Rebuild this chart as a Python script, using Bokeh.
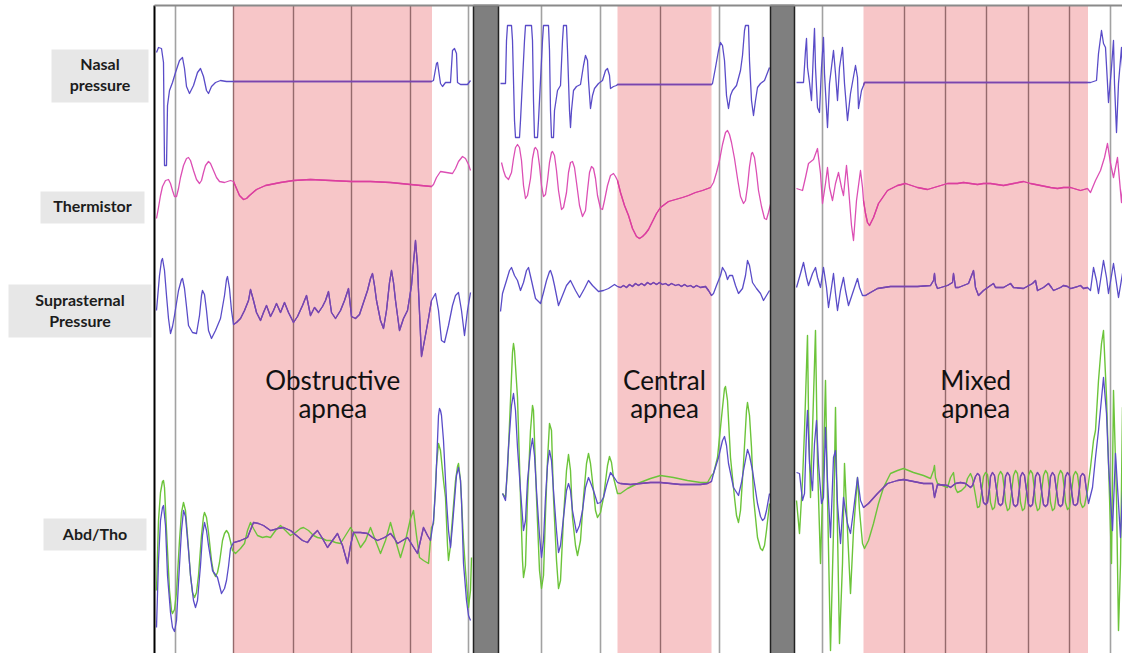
from bokeh.plotting import figure
from bokeh.models import Range1d
from bokeh.embed import file_html
from bokeh.resources import INLINE
from bokeh.core.properties import value

# ---------------- data (time t, signal level v) ----------------
channels = ["Nasal|pressure", "Thermistor", "Suprasternal|Pressure", "Abd/Tho"]
channel_label_y = [(63, 84), (205,), (299, 320), (533,)]

event_names = [("Obstructive", "apnea"), ("Central", "apnea"), ("Mixed", "apnea")]
event_start = [233, 617, 863]
event_end = [431.5, 711, 1087.5]

epoch_marks_plain = [175, 468, 541, 600, 719, 822, 1110]
epoch_marks_event = [233, 293, 351, 410, 660, 904, 945, 986, 1028, 1069]

# Panel 1 (obstructive)
nasal_1 = [(156,52),(158,47),(161,48),(163,62),(164,165),(166,165),(167,105),(169,90),(172,82),(175,72),(179,60),(182,57),(184,68),(186,86),(189,93),(193,85),(197,72),(200,68),(203,76),(206,90),(208,93),(211,86),(215,82),(220,80),(226,81),(233,81),(431,81),(433,80),(436,63),(437,62),(440,83),(442,86),(445,82),(450,82),(452,50),(454,48),(456,53),(457,82),(460,84),(467,84),(470,80)]
therm_1 = [(156,218),(158,207),(160,195),(162,186),(165,180),(168,179),(170,183),(172,190),(174,196),(176,196),(178,188),(180,177),(183,165),(186,158),(188,157),(190,160),(193,170),(196,179),(199,183),(201,180),(203,172),(205,165),(208,161),(210,163),(213,170),(216,177),(219,181),(224,182),(230,180),(233,181),(236,188),(239,195),(243,199),(246,198),(249,195),(256,189),(265,185),(280,182),(293,180),(310,179),(330,180),(351,181),(370,181),(390,182),(410,184),(431,186),(433,184),(436,177),(440,171),(446,172),(452,173),(455,168),(458,161),(462,156),(465,158),(468,164),(470,170)]
supra_1 = [(156,310),(159,275),(161,260),(162,258),(164,270),(166,295),(168,318),(170,333),(172,326),(174,315),(178,290),(181,279),(182,278),(184,288),(186,306),(188,325),(192,332),(196,333),(199,315),(201,295),(202,290),(204,294),(206,310),(208,330),(211,338),(215,330),(220,318),(224,295),(226,279),(227,276),(229,288),(231,310),(233,324),(236,322),(240,318),(244,310),(248,300),(250,289),(253,300),(256,312),(260,320),(263,312),(266,305),(270,316),(273,310),(276,303),(280,312),(284,302),(288,312),(293,322),(297,316),(302,305),(306,295),(310,315),(314,307),(318,312),(322,306),(325,300),(328,291),(331,312),(335,318),(340,310),(344,300),(348,288),(351,316),(355,318),(359,314),(363,302),(367,290),(370,278),(372,273),(374,285),(376,300),(380,320),(383,328),(386,310),(389,282),(391,270),(393,282),(395,300),(399,330),(403,318),(407,310),(411,285),(413,262),(415,240),(417,265),(418,290),(421,356),(424,340),(428,318),(431,300),(435,293),(438,310),(441,340),(444,342),(448,325),(452,305),(455,295),(458,292),(461,310),(464,335),(467,310),(470,292)]
abd_1 = [(156,590),(158,520),(160,492),(162,481),(163,480),(164,487),(166,530),(169,590),(171,610),(172,613),(174,609),(176,592),(179,540),(181,512),(183,502),(185,510),(187,535),(190,575),(192,592),(194,597),(196,592),(198,575),(201,535),(203,516),(204,512),(206,517),(208,532),(211,560),(213,572),(215,576),(217,572),(219,562),(222,540),(224,533),(226,530),(228,533),(230,541),(232,550),(235,553),(240,548),(244,543),(247,530),(250,522),(253,528),(257,535),(262,537),(266,536),(270,537),(275,530),(280,525),(285,530),(290,535),(295,532),(300,528),(303,527),(308,530),(313,535),(317,537),(322,538),(326,540),(330,540),(335,542),(340,543),(345,535),(350,527),(355,535),(360,547),(365,540),(370,527),(375,540),(380,553),(385,540),(390,522),(395,540),(400,557),(405,540),(410,518),(413,510),(416,535),(419,557),(423,560),(428,563),(431,527),(433,523),(435,485),(436,465),(438,443),(440,450),(441,460),(443,480),(445,497),(447,545),(448,560),(450,545),(451,530),(455,480),(457,466),(458,463),(460,480),(461,500),(463,540),(465,570),(468,607),(470,590),(471,557)]
tho_1 = [(156,627),(158,560),(160,520),(162,507),(163,505),(165,525),(167,575),(170,612),(172,627),(174,631),(176,620),(178,582),(181,530),(183,510),(185,516),(188,550),(190,575),(193,600),(195,607),(197,600),(200,565),(202,535),(204,522),(206,530),(208,545),(212,570),(217,577),(221,593),(224,588),(226,580),(228,566),(230,548),(233,542),(240,540),(247,537),(253,522),(258,523),(263,525),(270,530),(277,528),(283,527),(290,530),(296,535),(302,540),(307,542),(312,535),(317,530),(322,538),(327,547),(332,540),(337,533),(342,545),(347,563),(350,545),(353,532),(360,532),(367,533),(372,537),(377,540),(384,537),(390,533),(394,538),(397,543),(402,540),(407,537),(412,545),(417,553),(420,540),(423,527),(427,535),(430,540),(433,520),(435,490),(437,440),(438,415),(439,408),(440,410),(441,415),(443,440),(446,500),(448,530),(450,547),(452,525),(454,500),(456,475),(458,467),(460,480),(461,500),(463,563),(466,600),(468,615),(470,620)]

# Panel 2 (central)
nasal_2 = [(500,83),(505,83),(506,40),(507,25),(511,25),(512,40),(514,120),(515,137),(519,137),(520,120),(524,40),(525,25),(531,25),(532,40),(533,100),(534,137),(537,137),(538,120),(542,40),(543,25),(548,25),(549,50),(550,110),(551,137),(553,137),(554,110),(557,90),(560,85),(562,40),(563,25),(566,25),(567,50),(569,110),(570,127),(571,110),(573,90),(576,86),(580,84),(583,65),(585,55),(587,60),(588,80),(590,108),(592,95),(594,88),(598,83),(602,80),(605,70),(607,68),(609,75),(610,88),(613,86),(616,85),(617,84),(711,84),(712,83),(715,67),(718,50),(720,42),(722,45),(724,60),(726,95),(728,108),(730,95),(732,90),(736,85),(740,70),(742,55),(744,30),(745,25),(748,25),(749,60),(751,100),(753,115),(755,100),(757,87),(760,83),(764,80),(769,67)]
therm_2 = [(501,162),(503,170),(505,176),(508,179),(511,172),(513,158),(515,147),(517,144),(519,147),(521,160),(523,185),(525,198),(527,195),(530,178),(532,158),(534,148),(535,147),(537,150),(539,165),(541,185),(543,196),(545,194),(547,180),(549,162),(551,152),(552,151),(554,155),(556,170),(558,190),(561,209),(563,207),(566,192),(568,172),(570,162),(572,161),(574,167),(576,182),(579,205),(582,216),(585,210),(587,190),(589,172),(591,166),(593,168),(595,178),(597,195),(600,208),(602,209),(604,200),(607,185),(610,175),(613,173),(615,176),(617,180),(620,192),(624,205),(628,215),(632,228),(636,236),(639,238),(642,236),(645,233),(648,229),(652,221),(656,213),(660,207),(664,204),(668,201),(675,199),(682,197),(688,195),(695,192),(702,190),(710,187),(713,182),(716,172),(719,160),(722,144),(725,132),(727,130),(729,134),(731,142),(734,158),(737,178),(740,196),(743,203),(745,200),(747,186),(749,166),(751,153),(752,152),(754,157),(756,172),(758,190),(761,206),(764,218),(766,219),(768,212),(771,200)]
supra_2 = [(500,311),(502,293),(506,280),(509,270),(511,267),(514,275),(517,280),(520,290),(523,282),(526,270),(528,267),(531,280),(535,298),(540,303),(543,292),(546,280),(549,271),(550,270),(552,276),(554,285),(558,305),(562,295),(566,285),(570,280),(575,290),(579,297),(584,288),(588,280),(592,285),(598,291),(603,290),(608,288),(614,284),(617,286),(620,287),(623,285),(626,287),(629,284),(632,286),(635,283),(638,285),(641,283),(644,285),(647,282),(650,284),(653,282),(656,284),(659,282),(662,284),(665,283),(668,285),(671,283),(675,285),(678,284),(681,286),(684,284),(687,286),(690,285),(693,287),(696,285),(700,287),(705,286),(708,290),(711,295),(713,293),(716,285),(720,275),(722,267),(725,272),(727,279),(729,275),(732,275),(735,285),(738,293),(742,288),(745,275),(747,260),(749,265),(752,282),(756,288),(760,293),(763,300),(766,295),(769,290)]
abd_2 = [(502,493),(505,497),(507,470),(508,447),(510,400),(512,352),(513,343),(514,350),(517,397),(520,497),(522,560),(523,577),(525,565),(527,497),(530,430),(532,405),(533,410),(536,497),(539,570),(541,588),(543,575),(545,513),(547,460),(549,423),(551,430),(553,497),(556,560),(558,588),(560,580),(563,517),(566,470),(568,454),(570,470),(572,517),(575,545),(577,555),(580,540),(583,497),(586,463),(588,453),(590,463),(593,490),(595,510),(597,517),(600,512),(603,497),(607,465),(609,456),(611,462),(613,477),(617,493),(620,493),(627,488),(637,483),(650,478),(660,475),(673,477),(687,480),(700,482),(707,482),(711,475),(713,473),(717,457),(721,417),(724,388),(725,386),(727,400),(730,457),(734,497),(736,515),(738,522),(740,510),(743,463),(746,410),(747,402),(749,415),(751,447),(753,497),(757,537),(760,548),(762,550),(764,545),(766,530),(769,503)]
tho_2 = [(502,493),(505,500),(508,447),(511,405),(513,393),(515,410),(517,447),(520,490),(523,530),(525,520),(527,480),(530,450),(532,438),(534,455),(536,490),(539,535),(541,557),(543,540),(545,497),(547,465),(549,450),(551,460),(553,490),(556,530),(558,552),(560,545),(563,517),(566,490),(568,483),(570,490),(572,510),(576,532),(579,525),(582,510),(585,487),(588,477),(590,482),(593,490),(597,503),(600,502),(603,497),(606,485),(610,472),(613,476),(617,482),(620,483),(630,484),(640,483),(650,482),(660,482),(670,483),(680,484),(690,484),(700,484),(707,483),(711,481),(713,473),(718,457),(722,440),(724,436),(726,445),(728,463),(733,487),(738,495),(741,482),(743,470),(747,449),(749,455),(752,470),(757,503),(760,516),(762,520),(764,518),(766,510),(769,493)]

# Panel 3 (mixed)
nasal_3 = [(796,82),(803,82),(805,50),(806,38),(807,67),(809,82),(811,100),(813,50),(814,28),(815,67),(817,107),(819,112),(821,67),(823,37),(824,73),(827,127),(829,83),(833,50),(835,73),(837,100),(839,67),(842,47),(844,83),(847,120),(850,93),(855,65),(857,77),(858,108),(861,90),(863,85),(864,82),(1087,82),(1090,82),(1096,80),(1098,53),(1101,30),(1103,43),(1105,47),(1107,83),(1108,102),(1111,67),(1113,40),(1114,83),(1116,132),(1118,83),(1121,47),(1123,83),(1127,102),(1129,67),(1131,37),(1133,83),(1135,107),(1138,82)]
therm_3 = [(796,188),(802,190),(805,177),(808,163),(813,159),(817,148),(820,173),(822,203),(825,183),(827,167),(829,187),(832,200),(835,183),(838,172),(841,187),(843,195),(846,165),(848,187),(851,225),(853,240),(856,200),(860,170),(862,187),(863,200),(865,213),(867,222),(869,225),(873,217),(878,203),(887,190),(897,185),(905,183),(917,187),(927,189),(937,186),(947,183),(957,183),(963,182),(970,183),(977,184),(983,183),(990,183),(1003,185),(1013,183),(1023,181),(1030,183),(1040,185),(1050,187),(1057,188),(1063,187),(1070,187),(1080,190),(1087,188),(1090,192),(1095,180),(1100,170),(1104,157),(1107,143),(1110,163),(1113,177),(1117,157),(1121,202),(1125,153),(1128,180),(1133,157),(1138,173)]
supra_3 = [(796,287),(800,273),(803,262),(806,277),(808,285),(812,273),(815,267),(817,277),(820,287),(823,267),(826,287),(828,307),(831,287),(833,273),(835,293),(837,310),(840,290),(843,277),(845,290),(848,305),(853,290),(857,278),(859,287),(862,295),(865,295),(870,292),(877,288),(890,286),(903,286),(917,286),(930,285),(933,280),(934,273),(935,283),(937,288),(947,285),(952,282),(953,273),(955,287),(958,287),(968,283),(973,270),(975,287),(978,295),(983,290),(990,285),(993,283),(995,287),(1003,287),(1010,283),(1013,287),(1023,288),(1032,283),(1035,280),(1037,290),(1043,287),(1048,283),(1051,287),(1053,290),(1060,287),(1063,285),(1067,286),(1070,288),(1077,286),(1080,285),(1083,288),(1087,287),(1090,290),(1093,267),(1096,280),(1098,293),(1103,260),(1106,277),(1108,293),(1113,263),(1116,283),(1118,297),(1123,267),(1126,283),(1128,300),(1133,267),(1136,287),(1138,303)]
abd_3 = [(796,500),(799,533),(802,480),(804,430),(807,335),(808,413),(810,497),(812,430),(815,330),(817,463),(820,563),(823,463),(825,380),(827,497),(830,650),(833,530),(835,407),(837,530),(839,643),(842,563),(844,463),(847,530),(850,593),(853,530),(857,477),(859,510),(862,543),(864,548),(868,540),(873,523),(878,503),(883,487),(890,473),(897,470),(903,468),(913,472),(923,475),(930,478),(933,470),(934,465),(935,477),(937,483),(947,487),(950,477),(953,472),(955,488),(957,492),(961,490),(965,486),(967,478),(970,473),(972,478),(975,495),(977,507),(979,506),(981,492),(983,476),(985,472),(987,474),(989,490),(990,502),(992,509),(994,507),(996,492),(998,475),(1000,471),(1002,474),(1004,490),(1005,502),(1007,510),(1009,508),(1011,492),(1013,475),(1015,470),(1017,473),(1019,490),(1020,502),(1022,510),(1024,508),(1026,492),(1028,475),(1030,470),(1032,473),(1034,490),(1035,502),(1037,510),(1039,508),(1041,492),(1043,475),(1045,470),(1047,473),(1049,490),(1050,502),(1052,510),(1054,508),(1056,492),(1058,475),(1060,470),(1062,473),(1064,490),(1065,502),(1067,509),(1069,507),(1071,492),(1073,475),(1075,471),(1077,474),(1079,490),(1080,502),(1082,507),(1084,505),(1086,495),(1087,490),(1090,467),(1093,440),(1095,430),(1098,380),(1101,343),(1103,330),(1106,397),(1108,463),(1111,563),(1113,390),(1116,497),(1118,630),(1120,563),(1122,407),(1124,530),(1127,647),(1128,563),(1130,427),(1133,497),(1135,580),(1138,530)]
tho_3 = [(796,472),(799,473),(802,500),(804,493),(806,430),(807,410),(809,463),(812,490),(814,443),(816,420),(818,463),(821,503),(823,497),(825,427),(827,480),(830,537),(833,457),(835,450),(837,503),(840,543),(843,497),(847,523),(850,533),(853,510),(857,477),(860,500),(863,507),(868,503),(877,493),(887,483),(897,480),(903,479),(913,481),(923,483),(932,483),(934,497),(937,484),(947,485),(950,487),(955,483),(960,482),(965,483),(970,487),(972,485),(975,476),(977,473),(979,475),(981,489),(983,502),(985,504),(987,502),(989,488),(990,476),(992,472),(994,475),(996,489),(998,503),(1000,505),(1002,503),(1004,488),(1005,476),(1007,472),(1009,475),(1011,490),(1013,504),(1015,506),(1017,504),(1019,488),(1020,476),(1022,472),(1024,475),(1026,490),(1028,504),(1030,506),(1032,504),(1034,488),(1035,476),(1037,472),(1039,475),(1041,490),(1043,504),(1045,506),(1047,504),(1049,488),(1050,476),(1052,472),(1054,475),(1056,490),(1058,504),(1060,506),(1062,504),(1064,488),(1065,476),(1067,472),(1069,475),(1071,490),(1073,504),(1075,505),(1077,503),(1079,488),(1080,476),(1082,473),(1084,475),(1086,490),(1088,503),(1092,487),(1095,457),(1098,430),(1103,377),(1106,413),(1108,463),(1112,530),(1115,453),(1118,503),(1120,537),(1123,470),(1127,517),(1130,480),(1133,530),(1138,550)]

# ---------------- styling / layout ----------------
BLUE = "#5a4cc8"
BLUE_IN_EVENT = "#7c44ac"
PINK = "#dc4fb4"
PINK_IN_EVENT = "#dc3f9c"
GREEN = "#6cc43a"
TOP, BOTTOM = 5, 667
W, H = 1122, 653

p = figure(width=W, height=H, x_range=Range1d(0, W), y_range=Range1d(H, 0),
           output_backend="svg", toolbar_location=None, min_border=0,
           x_axis_location=None, y_axis_location=None)
p.grid.visible = False
p.outline_line_color = None
p.background_fill_color = "white"
p.border_fill_color = "white"

# apnea shading
p.quad(left=event_start, right=event_end, top=[TOP] * 3, bottom=[BOTTOM] * 3,
       fill_color="#f7c6c8", line_color=None)

# epoch lines
n = len(epoch_marks_plain)
p.segment(x0=epoch_marks_plain, y0=[TOP] * n, x1=epoch_marks_plain, y1=[BOTTOM] * n,
          line_color="#a2a2a2", line_width=1.6)
n = len(epoch_marks_event)
p.segment(x0=epoch_marks_event, y0=[TOP] * n, x1=epoch_marks_event, y1=[BOTTOM] * n,
          line_color="#956a6c", line_width=1.4)


def trace(pts, color, width=1.3, inside_color=None):
    t = [a for a, b in pts]
    v = [b for a, b in pts]
    p.line(t, v, line_color=color, line_width=width, line_join="round")
    if inside_color:
        for s, e in zip(event_start, event_end):
            seg = [(a, b) for a, b in pts if s <= a <= e]
            if len(seg) > 1:
                p.line([a for a, b in seg], [b for a, b in seg], line_color=inside_color,
                       line_width=width, line_join="round")


for pts in (nasal_1, nasal_2, nasal_3, supra_1, supra_2, supra_3):
    trace(pts, BLUE, inside_color=BLUE_IN_EVENT)
for pts in (therm_1, therm_2, therm_3):
    trace(pts, PINK, inside_color=PINK_IN_EVENT)
for pts in (abd_1, abd_2, abd_3):
    trace(pts, GREEN, 1.4)
for pts in (tho_1, tho_2, tho_3):
    trace(pts, BLUE, inside_color=BLUE_IN_EVENT)

# panel frames / separators
p.quad(left=[473, 770], right=[498, 794], top=[TOP, TOP], bottom=[BOTTOM, BOTTOM],
       fill_color="#7f7f7f", line_color="#222222", line_width=1.5)
p.segment(x0=[154], y0=[TOP], x1=[154], y1=[BOTTOM], line_color="black", line_width=2)
p.segment(x0=[154, 794], y0=[BOTTOM, BOTTOM], x1=[473, 1138], y1=[BOTTOM, BOTTOM],
          line_color="black", line_width=2)
p.segment(x0=[154], y0=[TOP], x1=[1138], y1=[TOP], line_color="#8a8a8a", line_width=2)

# channel label boxes
box_left = [51, 40, 8, 43]
box_right = [148, 144, 151, 146]
box_top = [49, 191, 284, 518]
box_bottom = [102, 223, 337, 550]
p.quad(left=box_left, right=box_right, top=box_top, bottom=box_bottom,
       fill_color="#e7e7e7", line_color=None)
lx, ly, lt = [], [], []
for name, ys, l, r in zip(channels, channel_label_y, box_left, box_right):
    for part, yy in zip(name.split("|"), ys):
        lx.append((l + r) / 2)
        ly.append(yy)
        lt.append(part)
p.text(x=lx, y=ly, text=lt, text_font=value("Lato"), text_font_size="16px",
       text_font_style="bold", text_align="center", text_baseline="alphabetic",
       text_color="#1c1c1c")

# event names
ex, ey, et = [], [], []
for (a, b), s, e in zip(event_names, event_start, event_end):
    c = (s + e) / 2
    ex += [c, c]
    ey += [379, 407]
    et += [a, b]
p.text(x=ex, y=ey, text=et, text_font=value("Lato"), text_font_size="26px",
       text_align="center", text_baseline="alphabetic", text_color="#111111")

open("out.html", "w").write(file_html(p, INLINE))
